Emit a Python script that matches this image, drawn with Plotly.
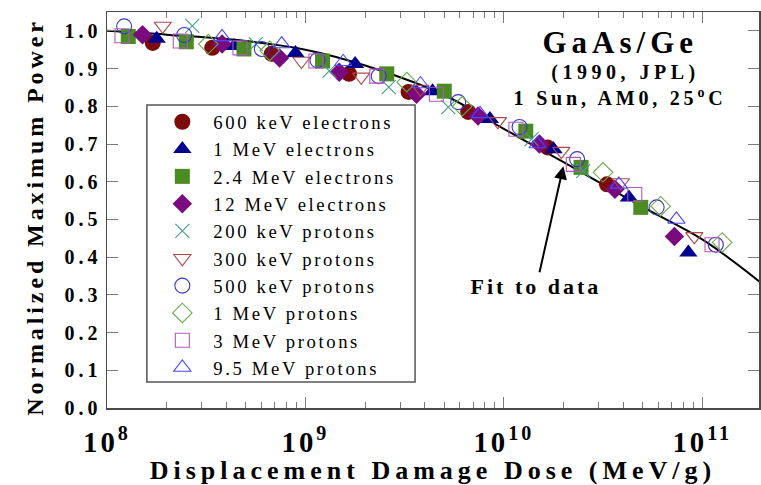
import plotly.graph_objects as go

# ---------------- data ----------------
series_names = ["600 keV electrons", "1 MeV electrons", "2.4 MeV electrons", "12 MeV electrons",
                "200 keV protons", "300 keV protons", "500 keV protons", "1 MeV protons",
                "3 MeV protons", "9.5 MeV protons"]

e600_dose = [1.70e8, 3.39e8, 6.76e8, 1.66e9, 3.31e9, 6.61e9, 1.66e10, 3.31e10]
e600_pmax = [0.968, 0.955, 0.939, 0.886, 0.838, 0.785, 0.691, 0.593]

e1_dose = [1.78e8, 4.37e8, 8.91e8, 1.78e9, 4.37e9, 8.51e9, 1.78e10, 4.27e10, 8.51e10]
e1_pmax = [0.979, 0.960, 0.941, 0.912, 0.840, 0.766, 0.686, 0.558, 0.412]

e24_dose = [1.28e8, 2.51e8, 4.90e8, 1.22e9, 2.57e9, 5.01e9, 1.29e10, 2.45e10, 4.90e10]
e24_pmax = [0.985, 0.971, 0.952, 0.920, 0.886, 0.840, 0.734, 0.638, 0.532]

e12_dose = [1.51e8, 3.80e8, 7.41e8, 1.48e9, 3.63e9, 7.41e9, 1.51e10, 3.63e10, 7.24e10]
e12_pmax = [0.990, 0.965, 0.928, 0.890, 0.832, 0.774, 0.700, 0.580, 0.455]

p200_dose = [2.69e8, 5.62e8, 1.32e9, 2.63e9, 5.25e9, 1.38e10, 2.51e10]
p200_pmax = [1.013, 0.965, 0.894, 0.851, 0.798, 0.713, 0.628]

p300_dose = [1.91e8, 9.55e8, 1.91e9, 3.80e9, 9.33e9, 1.95e10, 3.89e10, 9.12e10]
p300_pmax = [1.013, 0.920, 0.878, 0.846, 0.760, 0.681, 0.598, 0.455]

p500_dose = [1.22e8, 2.45e8, 6.03e8, 1.15e9, 2.34e9, 5.89e9, 1.20e10, 2.34e10, 5.89e10, 1.17e11]
p500_pmax = [1.012, 0.989, 0.952, 0.922, 0.880, 0.811, 0.745, 0.660, 0.532, 0.433]

p1_dose = [3.24e8, 6.61e8, 3.24e9, 6.17e9, 3.16e10, 6.17e10, 1.26e11]
p1_pmax = [0.965, 0.947, 0.864, 0.800, 0.625, 0.535, 0.439]

p3_dose = [1.19e8, 2.34e8, 4.68e8, 1.13e9, 2.29e9, 4.57e9, 1.15e10, 2.24e10, 4.57e10, 1.12e11]
p3_pmax = [0.987, 0.973, 0.955, 0.920, 0.880, 0.832, 0.739, 0.646, 0.566, 0.433]

p95_dose = [3.80e8, 7.59e8, 1.55e9, 3.80e9, 7.59e9, 1.48e10, 3.80e10, 7.41e10]
p95_pmax = [0.984, 0.965, 0.918, 0.859, 0.780, 0.700, 0.593, 0.500]

fit_dose = [1e8, 2e8, 5e8, 1e9, 2e9, 5e9, 1e10, 2e10, 5e10, 1e11, 2e11]
fit_pmax = [1.000, 0.990, 0.973, 0.950, 0.908, 0.830, 0.740, 0.652, 0.533, 0.447, 0.330]

y_ticks = [0.0, 0.1, 0.2, 0.3, 0.4, 0.5, 0.6, 0.7, 0.8, 0.9, 1.0]

# ---------------- styles ----------------
styles = [
    dict(symbol="circle", color="#7d0b0b", size=16, fill=True),
    dict(symbol="triangle-up", color="#00008f", size=16, fill=True),
    dict(symbol="square", color="#4a8b22", size=15, fill=True),
    dict(symbol="diamond", color="#7a0a80", size=15, fill=True),
    dict(symbol="x-thin-open", color="#459a92", size=14, fill=False),
    dict(symbol="triangle-down-open", color="#b04848", size=15, fill=False),
    dict(symbol="circle-open", color="#3535c8", size=15, fill=False),
    dict(symbol="diamond-open", color="#6aaa48", size=15, fill=False),
    dict(symbol="square-open", color="#b058c0", size=14, fill=False),
    dict(symbol="triangle-up-open", color="#4848ff", size=15, fill=False),
]
data_x = [e600_dose, e1_dose, e24_dose, e12_dose, p200_dose, p300_dose, p500_dose, p1_dose, p3_dose, p95_dose]
data_y = [e600_pmax, e1_pmax, e24_pmax, e12_pmax, p200_pmax, p300_pmax, p500_pmax, p1_pmax, p3_pmax, p95_pmax]

SERIF = "Liberation Serif"

fig = go.Figure()
fig.add_trace(go.Scatter(x=fit_dose, y=fit_pmax, mode="lines",
                         line=dict(color="black", width=2, shape="spline", smoothing=1.0),
                         showlegend=False, hoverinfo="skip"))
for name, xs, ys, st in zip(series_names, data_x, data_y, styles):
    if st["fill"]:
        marker = dict(symbol=st["symbol"], color=st["color"], size=st["size"], line=dict(width=0))
    else:
        marker = dict(symbol=st["symbol"], color=st["color"], size=st["size"],
                      line=dict(width=1.1, color=st["color"]))
    fig.add_trace(go.Scatter(x=xs, y=ys, mode="markers", name=name, marker=marker))

axis_line = "#4a4a4a"
tick_col = "#7a7a7a"

fig.update_layout(
    width=761, height=485,
    margin=dict(l=107, r=0, t=12, b=77),
    paper_bgcolor="white", plot_bgcolor="white",
    font=dict(family=SERIF, color="black"),
    xaxis=dict(
        type="log", range=[8, 11.286], dtick=1, exponentformat="power",
        ticks="inside", ticklen=11, tickwidth=1, tickcolor=tick_col,
        showline=True, linecolor=axis_line, linewidth=1.5, mirror="allticks",
        showgrid=False, zeroline=False, ticklabelstandoff=9,
        minor=dict(ticks="inside", ticklen=6, tickcolor=tick_col, dtick="D1", showgrid=False),
        tickfont=dict(family=SERIF, size=23, weight="bold", color="black"),
        title=dict(text="Displacement Damage Dose (MeV/g)", standoff=2,
                   font=dict(family=SERIF, size=26, weight="bold", color="black")),
    ),
    yaxis=dict(
        range=[0, 1.05], tickvals=y_ticks, tickformat=".1f",
        ticks="inside", ticklen=11, tickwidth=1, tickcolor=tick_col,
        showline=True, linecolor=axis_line, linewidth=1.5, mirror="ticks",
        showgrid=False, zeroline=False,
        tickfont=dict(family=SERIF, size=20, weight="bold", color="black"),
        title=dict(text="Normalized Maximum Power", standoff=26,
                   font=dict(family=SERIF, size=24, weight="bold", color="black")),
    ),
    legend=dict(
        x=0.068, y=0.770, xanchor="left", yanchor="top",
        bgcolor="rgba(0,0,0,0)", borderwidth=0,
        font=dict(family=SERIF, size=18.7, color="black"),
        itemwidth=52,
    ),
    shapes=[dict(type="rect", xref="paper", yref="paper",
                 x0=(147 - 107) / 654, x1=(416 - 107) / 654,
                 y0=(408 - 382) / 396, y1=(408 - 105) / 396,
                 line=dict(color="#555555", width=1.5), fillcolor="white", layer="below")],
    annotations=[
        dict(text="GaAs/Ge", xref="paper", yref="paper", x=(622 - 107) / 654, y=(408 - 42) / 396,
             xanchor="center", yanchor="middle", showarrow=False,
             font=dict(family=SERIF, size=31, weight="bold", color="black")),
        dict(text="(1990, JPL)", xref="paper", yref="paper", x=(627 - 107) / 654, y=(408 - 72) / 396,
             xanchor="center", yanchor="middle", showarrow=False,
             font=dict(family=SERIF, size=20, weight="bold", color="black")),
        dict(text="1 Sun, AM0, 25<sup>o</sup>C", xref="paper", yref="paper", x=(622 - 107) / 654,
             y=(408 - 97) / 396, xanchor="center", yanchor="middle", showarrow=False,
             font=dict(family=SERIF, size=20, weight="bold", color="black")),
        dict(text="Fit to data", xref="x", yref="y", x=10.30, y=0.641, ax=-27, ay=120,
             showarrow=True, arrowhead=2, arrowsize=1.3, arrowwidth=2, arrowcolor="black", standoff=0,
             font=dict(family=SERIF, size=22, weight="bold", color="black")),
    ],
)

post = """
document.body.style.margin = '0';
document.body.style.overflow = 'hidden';
var gd = document.getElementById('{plot_id}');
function sp(sel, v){ gd.querySelectorAll(sel).forEach(function(e){ e.style.letterSpacing = v; }); }
sp('.xtitle', '5px');
sp('.ytitle', '3.9px');
sp('.xtick text', '3px');
sp('.ytick text', '4px');
sp('.legendtext', '2.6px');
var ann = gd.querySelectorAll('.annotation-text');
var spc = ['5px', '4.5px', '3.8px', '3px'];
ann.forEach(function(e, i){ e.style.letterSpacing = spc[i] || '3px'; });
gd.querySelectorAll('.ytitle').forEach(function(e){
  var t = e.getAttribute('transform') || '';
  e.setAttribute('transform', 'translate(0,7) ' + t);
});
gd.querySelectorAll('.legend [clip-path]').forEach(function(e){ e.removeAttribute('clip-path'); });
gd.querySelectorAll('g.text').forEach(function(e){ if (!e.childElementCount) { e.remove(); } });
"""
fig.write_html("out.html", post_script=post, config={"displayModeBar": False, "staticPlot": True})
